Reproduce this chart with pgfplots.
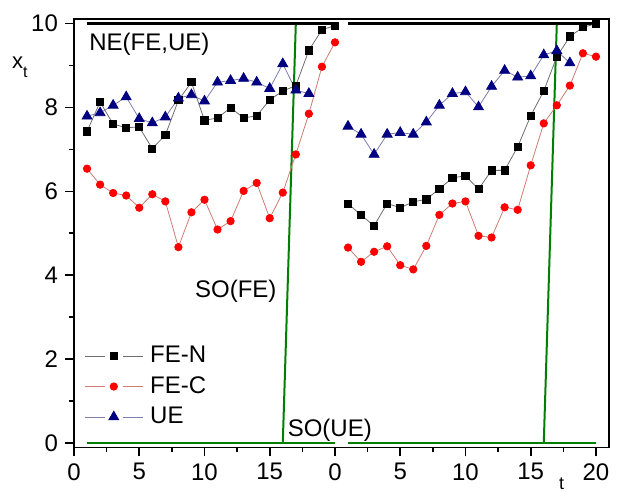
\documentclass[border=0pt]{standalone}
\usepackage{fontspec}
\setmainfont{Liberation Sans}
\usepackage{pgfplots}
\usepackage{pgfplotstable}
\pgfplotsset{compat=1.18}

\definecolor{soGreen}{RGB}{0,128,0}
\definecolor{feNline}{RGB}{110,110,110}
\definecolor{feCline}{RGB}{205,125,115}
\definecolor{ueLine}{RGB}{125,125,175}
\definecolor{ueMark}{RGB}{0,0,128}

% two runs of 20 periods each, split by a nan row
\pgfplotstableread{
x y
1 7.43
2 8.13
3 7.60
4 7.52
5 7.53
6 7.02
7 7.34
8 8.17
9 8.60
10 7.69
11 7.75
12 7.99
13 7.75
14 7.80
15 8.18
16 8.39
17 8.52
18 9.36
19 9.85
20 9.95
20.5 nan
21 5.71
22 5.43
23 5.18
24 5.71
25 5.61
26 5.75
27 5.81
28 6.06
29 6.32
30 6.37
31 6.05
32 6.50
33 6.50
34 7.06
35 7.80
36 8.39
37 9.21
38 9.69
39 9.91
40 9.99
}\feN

\pgfplotstableread{
x y
1 6.54
2 6.16
3 5.96
4 5.90
5 5.61
6 5.93
7 5.76
8 4.67
9 5.50
10 5.80
11 5.09
12 5.29
13 6.01
14 6.20
15 5.36
16 5.97
17 6.88
18 7.85
19 8.97
20 9.55
20.5 nan
21 4.66
22 4.32
23 4.56
24 4.69
25 4.24
26 4.14
27 4.70
28 5.44
29 5.71
30 5.76
31 4.94
32 4.90
33 5.62
34 5.56
35 6.62
36 7.62
37 8.05
38 8.52
39 9.29
40 9.21
}\feC

\pgfplotstableread{
x y
1 7.79
2 7.87
3 8.05
4 8.25
5 7.73
6 7.63
7 7.77
8 8.22
9 8.30
10 8.15
11 8.60
12 8.64
13 8.69
14 8.60
15 8.45
16 9.04
17 8.41
18 8.33
20.5 nan
21 7.55
22 7.36
23 6.88
24 7.36
25 7.40
26 7.36
27 7.65
28 8.05
29 8.33
30 8.37
31 8.01
32 8.50
33 8.88
34 8.72
35 8.75
36 9.25
37 9.35
38 9.06
}\ue

\begin{document}
\begin{tikzpicture}
\begin{axis}[
  scale only axis, width=267.5pt, height=214pt,
  xmin=0, xmax=41, ymin=-0.1, ymax=10.1,
  axis line style={line width=0.8pt},
  tick pos=left, tick align=outside,
  xtick={0,5,...,40}, xticklabels={0,5,10,15,0,5,10,15,20},
  minor xtick={2.5,7.5,...,37.5},
  ytick={0,2,...,10}, minor ytick={1,3,...,9},
  major tick length=4.5pt, minor tick length=2.5pt,
  every tick/.style={black, line width=0.8pt},
  tick label style={font=\fontsize{12}{14}\selectfont},
  /pgf/number format/assume math mode=true,
  clip=false,
  unbounded coords=jump,
  legend style={draw=none, fill=none, at={(0.0187,0.142)}, anchor=west,
    inner sep=0pt, row sep=3.4pt, column sep=2.5pt,
    nodes={inner sep=1pt}, font=\fontsize{12}{14}\selectfont},
  legend cell align=left,
  legend image code/.code={
    \draw[#1] (0pt,0pt) -- (10pt,0pt);
    \draw[#1] (19pt,0pt) -- (29pt,0pt);
    \draw[#1, only marks] plot coordinates {(14.5pt,0pt)};},
]
% SO lines (green) and NE line (black)
\addplot[soGreen, line width=1pt, forget plot] coordinates {(1,0) (20,0)};
\addplot[soGreen, line width=1pt, forget plot] coordinates {(16,0) (17,10)};
\addplot[soGreen, line width=1pt, forget plot] coordinates {(21,0) (40,0)};
\addplot[soGreen, line width=1pt, forget plot] coordinates {(36,0) (37,10)};
\addplot[black, line width=1.2pt, forget plot] coordinates {(1,10) (20,10)};
\addplot[black, line width=1.2pt, forget plot] coordinates {(21,10) (40,10)};

\addplot[feNline, line width=0.4pt, mark=square*, mark size=1.8pt,
  mark options={fill=black, draw=black}] table {\feN};
\addlegendentry{FE-N}
\addplot[feCline, line width=0.4pt, mark=*, mark size=1.85pt,
  mark options={fill=red, draw=red}] table {\feC};
\addlegendentry{FE-C}
\addplot[ueLine, line width=0.4pt, mark=triangle*, mark size=2.85pt,
  mark options={fill=ueMark, draw=ueMark}] table {\ue};
\addlegendentry{UE}

\node[anchor=base west, inner sep=0pt, font=\fontsize{12}{14}\selectfont]
  at (axis cs:1.15,9.36) {NE(FE,UE)};
\node[anchor=base west, inner sep=0pt, font=\fontsize{12}{14}\selectfont]
  at (axis cs:9.25,3.48) {SO(FE)};
\node[anchor=base west, inner sep=0pt, font=\fontsize{12}{14}\selectfont]
  at (axis cs:16.35,0.15) {SO(UE)};
\node[anchor=base west, inner sep=0pt, font=\fontsize{11}{13}\selectfont]
  at (axis cs:-4.77,8.93) {x\raisebox{-0.8ex}{\fontsize{8}{9}\selectfont t}};
\node[anchor=base west, inner sep=0pt, font=\fontsize{9}{11}\selectfont]
  at (axis cs:37.15,-1.1) {t};
\end{axis}
\path (current axis.south west) ++(-37pt,-21.85pt);
\path (current axis.north east) ++(7.5pt,9.65pt);
\end{tikzpicture}
\end{document}
